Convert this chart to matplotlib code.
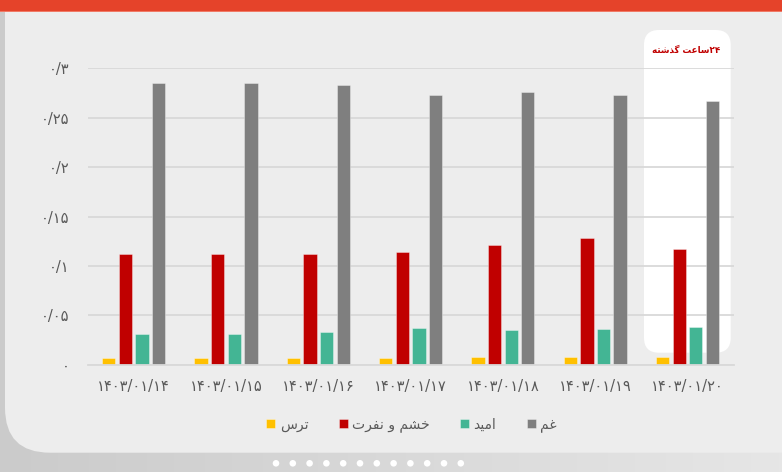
import matplotlib
matplotlib.use("Agg")
import matplotlib.pyplot as plt
from matplotlib.patches import FancyBboxPatch, Rectangle, Circle
import numpy as np

# DATA
dates = ["۱۴۰۳/۰۱/۱۴", "۱۴۰۳/۰۱/۱۵", "۱۴۰۳/۰۱/۱۶", "۱۴۰۳/۰۱/۱۷",
         "۱۴۰۳/۰۱/۱۸", "۱۴۰۳/۰۱/۱۹", "۱۴۰۳/۰۱/۲۰"]
fear    = [0.0063, 0.0069, 0.0069, 0.0063, 0.0073, 0.0073, 0.0073]
anger   = [0.1125, 0.112, 0.112, 0.1136, 0.121, 0.128, 0.1166]
hope    = [0.031, 0.031, 0.033, 0.0372, 0.035, 0.036, 0.0378]
sadness = [0.2848, 0.285, 0.283, 0.273, 0.276, 0.273, 0.267]
yticks  = [0, 0.05, 0.1, 0.15, 0.2, 0.25, 0.3]

names  = ["ترس", "خشم و نفرت", "امید", "غم"]
colors = ["#ffc000", "#c00000", "#43b594", "#7f7f7f"]
title24 = "ساعت گذشته"


# PERSIAN SHAPING ( matplotlib HAS NO ARABIC LAYOUT )
# letter : (isolated, final, initial, medial)
FORMS = {
    "ا": ("\uFE8D", "\uFE8E"),
    "د": ("\uFEA9", "\uFEAA"),
    "ذ": ("\uFEAB", "\uFEAC"),
    "ر": ("\uFEAD", "\uFEAE"),
    "و": ("\uFEED", "\uFEEE"),
    "ت": ("\uFE95", "\uFE96", "\uFE97", "\uFE98"),
    "خ": ("\uFEA5", "\uFEA6", "\uFEA7", "\uFEA8"),
    "س": ("\uFEB1", "\uFEB2", "\uFEB3", "\uFEB4"),
    "ش": ("\uFEB5", "\uFEB6", "\uFEB7", "\uFEB8"),
    "ع": ("\uFEC9", "\uFECA", "\uFECB", "\uFECC"),
    "غ": ("\uFECD", "\uFECE", "\uFECF", "\uFED0"),
    "ف": ("\uFED1", "\uFED2", "\uFED3", "\uFED4"),
    "م": ("\uFEE1", "\uFEE2", "\uFEE3", "\uFEE4"),
    "ن": ("\uFEE5", "\uFEE6", "\uFEE7", "\uFEE8"),
    "ه": ("\uFEE9", "\uFEEA", "\uFEEB", "\uFEEC"),
    "ی": ("\uFBFC", "\uFBFD", "\uFBFE", "\uFBFF"),
    "گ": ("\uFB92", "\uFB93", "\uFB94", "\uFB95"),
}


def fa(text):
    out = []
    for i, c in enumerate(text):
        if c not in FORMS:
            out.append(c)
            continue
        prev = text[i-1] if i > 0 else " "
        nxt = text[i+1] if i < len(text)-1 else " "
        jp = prev in FORMS and len(FORMS[prev]) == 4
        jn = len(FORMS[c]) == 4 and nxt in FORMS
        f = FORMS[c]
        if jp and jn:
            out.append(f[3])
        elif jp:
            out.append(f[1])
        elif jn:
            out.append(f[2])
        else:
            out.append(f[0])
    return "".join(out[::-1])


def fa_num(v):
    s = "%g" % v
    return s.translate(str.maketrans("0123456789.", "۰۱۲۳۴۵۶۷۸۹/"))


plt.rcParams['font.family'] = ['DejaVu Sans']

W, H = 782, 472
fig = plt.figure(figsize=(W/100, H/100), dpi=100)

# BACKGROUND ( PIXEL COORDS )
bg = fig.add_axes([0, 0, 1, 1], zorder=-10)
bg.set_xlim(0, W)
bg.set_ylim(H, 0)
bg.axis("off")
grad = np.linspace(0, 1, 256)[None, :]
bg.imshow(grad, cmap=matplotlib.colors.LinearSegmentedColormap.from_list("g", ["#cbcbcb", "#e6e6e6"]),
          extent=(0, W, H, 0), aspect="auto")
bg.add_patch(FancyBboxPatch((5, -40), 820, 492.7, boxstyle="round,pad=0,rounding_size=45",
                            fc="#ededed", ec="none"))
bg.add_patch(Rectangle((0, 0), W, 12, fc="#e5432a", ec="none"))
bg.add_patch(Rectangle((0, 10.5), W, 1.5, fc="#f07a66", ec="none"))
bg.add_patch(FancyBboxPatch((644, 30), 86.7, 322.7, boxstyle="round,pad=0,rounding_size=15",
                            fc="white", ec="none"))
for k in range(12):
    bg.add_patch(Circle((276 + k*16.8, 463.3), 3.3, fc="white", ec="none"))
bg.text(686.6, 50.7, fa(title24) + "۲۴", ha="center", va="center", fontsize=6.3,
        fontweight="bold", color="#c00000")

# CHART
ax = fig.add_axes([87.6/W, 107.3/H, 646/W, 296.4/H])
ax.set_facecolor("none")
x = np.arange(len(dates))
bw = 0.144
step = 0.18
series = [fear, anger, hope, sadness]
for i in range(4):
    ax.bar(x + (i-1.5)*step, series[i], width=bw, color=colors[i],
           edgecolor=(1, 1, 1, 0.5), linewidth=0.5, label=fa(names[i]), zorder=2)

ax.set_xlim(-0.5, len(dates)-0.5)
ax.set_ylim(0, 0.3)
ax.set_yticks(yticks)
ax.set_yticklabels([fa_num(v) for v in yticks])
ax.set_xticks(x)
ax.set_xticklabels(dates)
ax.tick_params(length=0, labelsize=10.5, labelcolor="#595959")
ax.tick_params(axis="y", pad=13)
ax.tick_params(axis="x", pad=10)
ax.grid(axis="y", color="#d9d9d9", linewidth=1.3)
ax.set_axisbelow(True)
for s in ["top", "left", "right"]:
    ax.spines[s].set_visible(False)
ax.spines["bottom"].set_color("#d9d9d9")
ax.spines["bottom"].set_linewidth(1.3)

fig.legend(loc="center", bbox_to_anchor=(411.5/W, 1-425/H), ncol=4, frameon=False,
           fontsize=10, labelcolor="#595959", handlelength=0.65, handleheight=0.65,
           handletextpad=0.3, columnspacing=2.2)

fig.savefig("out.png", dpi=100)
